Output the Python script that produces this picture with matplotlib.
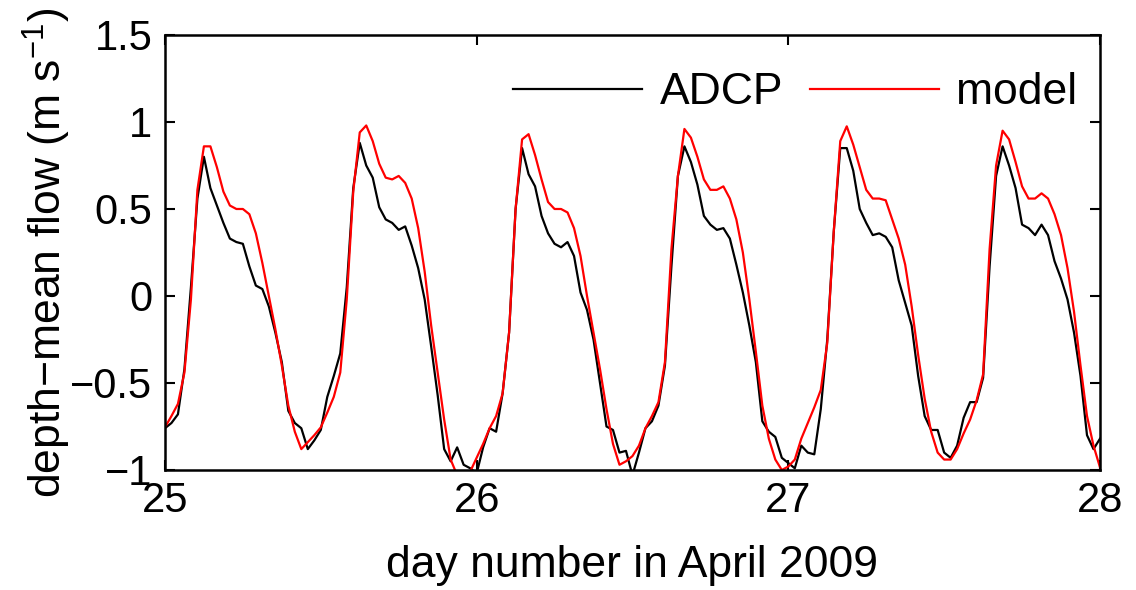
import numpy as np
import matplotlib
matplotlib.use("Agg")
import matplotlib.pyplot as plt

plt.rcParams['font.family'] = ['Liberation Sans', 'DejaVu Sans']
plt.rcParams['mathtext.fontset'] = 'custom'
plt.rcParams['mathtext.rm'] = 'Liberation Sans'
plt.rcParams['mathtext.it'] = 'Liberation Sans:italic'

# half-hourly samples from day 25 to day 28
day_start = 25.0
step = 1 / 48

adcp = [-0.76, -0.73, -0.68, -0.42, 0.05, 0.56, 0.80, 0.62, 0.52, 0.42,
        0.33, 0.31, 0.30, 0.17, 0.06, 0.04, -0.06, -0.21, -0.38, -0.66,
        -0.73, -0.76, -0.88, -0.83, -0.77, -0.58, -0.46, -0.33, 0.05, 0.62,
        0.88, 0.75, 0.68, 0.51, 0.44, 0.42, 0.38, 0.40, 0.29, 0.16,
        -0.02, -0.29, -0.57, -0.88, -0.95, -0.87, -0.97, -0.99, -1.02, -0.87,
        -0.76, -0.78, -0.56, -0.21, 0.50, 0.85, 0.70, 0.63, 0.46, 0.36,
        0.30, 0.28, 0.31, 0.23, 0.02, -0.08, -0.25, -0.50, -0.75, -0.77,
        -0.90, -0.89, -1.03, -0.90, -0.76, -0.72, -0.63, -0.40, 0.17, 0.69,
        0.86, 0.77, 0.64, 0.46, 0.41, 0.38, 0.39, 0.33, 0.18, 0.02,
        -0.17, -0.38, -0.72, -0.78, -0.81, -0.93, -0.96, -0.99, -0.86, -0.90,
        -0.91, -0.65, -0.25, 0.37, 0.85, 0.85, 0.72, 0.50, 0.42, 0.35,
        0.36, 0.34, 0.28, 0.09, -0.04, -0.17, -0.46, -0.69, -0.77, -0.77,
        -0.90, -0.93, -0.86, -0.70, -0.61, -0.61, -0.47, 0.17, 0.69, 0.86,
        0.75, 0.62, 0.41, 0.39, 0.35, 0.41, 0.35, 0.20, 0.10, -0.02,
        -0.21, -0.46, -0.80, -0.88, -0.82]

model = [-0.755, -0.69, -0.62, -0.44, -0.02, 0.61, 0.86, 0.86, 0.74, 0.60,
         0.52, 0.50, 0.50, 0.47, 0.36, 0.19, 0.00, -0.19, -0.40, -0.63,
         -0.78, -0.88, -0.84, -0.80, -0.755, -0.67, -0.58, -0.44, -0.02, 0.60,
         0.94, 0.98, 0.89, 0.76, 0.68, 0.67, 0.69, 0.65, 0.56, 0.39,
         0.14, -0.17, -0.44, -0.71, -0.94, -1.03, -1.06, -1.01, -0.93, -0.85,
         -0.76, -0.69, -0.56, -0.21, 0.50, 0.90, 0.93, 0.81, 0.67, 0.54,
         0.50, 0.50, 0.48, 0.39, 0.23, 0.00, -0.21, -0.42, -0.65, -0.85,
         -0.97, -0.95, -0.92, -0.86, -0.76, -0.69, -0.61, -0.38, 0.27, 0.69,
         0.96, 0.91, 0.80, 0.67, 0.61, 0.61, 0.63, 0.56, 0.44, 0.25,
         -0.02, -0.32, -0.63, -0.82, -0.94, -1.00, -0.98, -0.94, -0.82, -0.73,
         -0.64, -0.54, -0.27, 0.37, 0.89, 0.975, 0.87, 0.74, 0.61, 0.56,
         0.56, 0.55, 0.44, 0.33, 0.18, -0.06, -0.34, -0.59, -0.78, -0.90,
         -0.94, -0.94, -0.88, -0.79, -0.71, -0.60, -0.45, 0.27, 0.75, 0.95,
         0.90, 0.77, 0.63, 0.56, 0.56, 0.59, 0.56, 0.47, 0.35, 0.16,
         -0.09, -0.40, -0.69, -0.86, -0.985]

xticks = [25, 26, 27, 28]
yticks = [-1, -0.5, 0, 0.5, 1, 1.5]
ytick_labels = ['\u22121', '\u22120.5', '0', '0.5', '1', '1.5']

t = day_start + step * np.arange(len(adcp))

fig = plt.figure(figsize=(11.36, 5.90), dpi=100)
ax = fig.add_axes([0.1452, 0.2034, 0.8231, 0.7373])

ax.plot(t, adcp, color='k', lw=1.6, label='ADCP')
ax.plot(t, model, color='#ff0000', lw=1.6, label='model')

ax.set_xlim(25, 28)
ax.set_ylim(-1, 1.5)
ax.set_xticks(xticks)
ax.set_yticks(yticks)
ax.set_yticklabels(ytick_labels)
ax.tick_params(direction='in', length=7, width=1.5, labelsize=30,
               top=True, right=True)
ax.tick_params(axis='x', pad=8)
ax.tick_params(axis='y', pad=9)
for s in ax.spines.values():
    s.set_linewidth(1.8)

ax.set_xlabel('day number in April 2009', fontsize=32)
ax.set_ylabel('depth\u2212mean flow (m s$^{\u22121}$)', fontsize=32)
ax.yaxis.set_label_coords(-0.098, 0.5)
ax.xaxis.set_label_coords(0.5, -0.172)

ax.legend(loc='center right', bbox_to_anchor=(0.976, 0.867), ncol=2,
          frameon=False, fontsize=32, handlelength=2.9, handletextpad=0.4,
          columnspacing=0.6, borderpad=0, borderaxespad=0)

fig.savefig('out.png', dpi=100)
